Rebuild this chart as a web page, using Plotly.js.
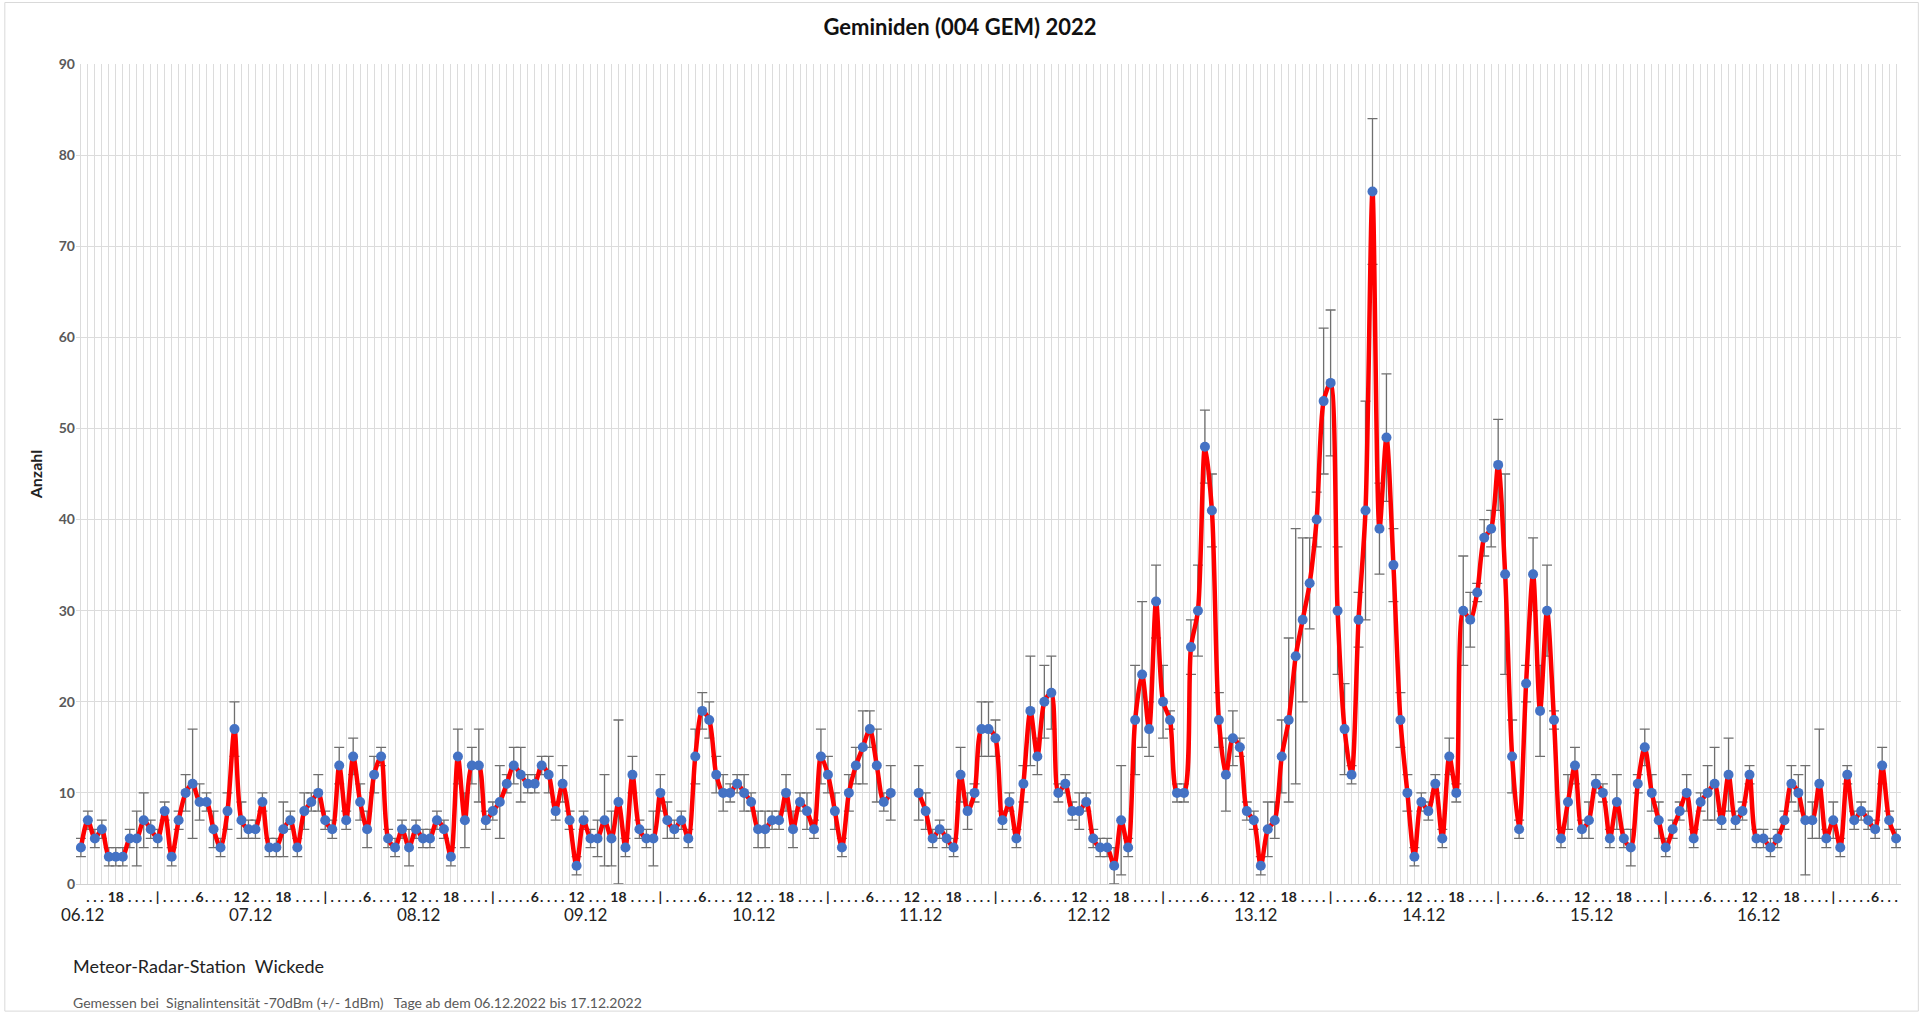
<!DOCTYPE html>
<html>
<head>
<meta charset="utf-8">
<script src="https://cdn.plot.ly/plotly-3.0.1.min.js"></script>
<style>
  html, body { margin: 0; padding: 0; background: #fff; }
  #chart { width: 1920px; height: 1015px; }
</style>
</head>
<body>
<div id="chart"></div>
<script>
// hourly counts, first value is 06.12.2022 13:00, null = no data
const counts = [
  4, 7, 5, 6, 3, 3, 3, 5, 5, 7,
  6, 5, 8, 3, 7, 10, 11, 9, 9, 6,
  4, 8, 17, 7, 6, 6, 9, 4, 4, 6,
  7, 4, 8, 9, 10, 7, 6, 13, 7, 14,
  9, 6, 12, 14, 5, 4, 6, 4, 6, 5,
  5, 7, 6, 3, 14, 7, 13, 13, 7, 8,
  9, 11, 13, 12, 11, 11, 13, 12, 8, 11,
  7, 2, 7, 5, 5, 7, 5, 9, 4, 12,
  6, 5, 5, 10, 7, 6, 7, 5, 14, 19,
  18, 12, 10, 10, 11, 10, 9, 6, 6, 7,
  7, 10, 6, 9, 8, 6, 14, 12, 8, 4,
  10, 13, 15, 17, 13, 9, 10,
  null, null, null,
  10, 8, 5, 6, 5, 4, 12, 8, 10, 17,
  17, 16, 7, 9, 5, 11, 19, 14, 20, 21,
  10, 11, 8, 8, 9, 5, 4, 4, 2, 7,
  4, 18, 23, 17, 31, 20, 18, 10, 10, 26,
  30, 48, 41, 18, 12, 16, 15, 8, 7, 2,
  6, 7, 14, 18, 25, 29, 33, 40, 53, 55,
  30, 17, 12, 29, 41, 76, 39, 49, 35, 18,
  10, 3, 9, 8, 11, 5, 14, 10, 30, 29,
  32, 38, 39, 46, 34, 14, 6, 22, 34, 19,
  30, 18, 5, 9, 13, 6, 7, 11, 10, 5,
  9, 5, 4, 11, 15, 10, 7, 4, 6, 8,
  10, 5, 9, 10, 11, 7, 12, 7, 8, 12,
  5, 5, 4, 5, 7, 11, 10, 7, 7, 11,
  5, 7, 4, 12, 7, 8, 7, 6, 13, 7,
  5
];
// estimated error (+/-) per hour
const errors = [
  1, 1, 1, 1, 1, 1, 1, 1, 3, 3,
  1, 1, 1, 1, 1, 2, 6, 2, 1, 2,
  1, 2, 3, 2, 1, 1, 1, 1, 1, 3,
  1, 1, 2, 1, 2, 1, 1, 2, 1, 2,
  2, 2, 2, 1, 1, 1, 1, 2, 1, 1,
  1, 1, 1, 1, 3, 3, 2, 4, 1, 1,
  4, 1, 2, 3, 1, 1, 1, 2, 1, 2,
  1, 1, 1, 1, 2, 5, 3, 9, 1, 2,
  1, 1, 3, 2, 2, 1, 1, 1, 3, 2,
  2, 2, 2, 1, 1, 2, 1, 2, 2, 1,
  1, 2, 2, 1, 2, 1, 3, 2, 2, 1,
  2, 2, 4, 2, 4, 1, 3,
  0, 0, 0,
  3, 2, 1, 1, 1, 1, 3, 2, 1, 3,
  3, 2, 1, 1, 1, 2, 6, 2, 4, 4,
  1, 1, 1, 2, 1, 1, 1, 1, 2, 6,
  1, 6, 8, 3, 4, 4, 1, 1, 1, 3,
  5, 4, 4, 3, 4, 3, 1, 1, 1, 1,
  3, 2, 4, 9, 14, 9, 5, 3, 8, 8,
  7, 5, 1, 3, 12, 8, 5, 7, 4, 3,
  2, 1, 1, 1, 1, 1, 2, 1, 6, 3,
  1, 2, 2, 5, 11, 4, 1, 2, 4, 5,
  5, 1, 1, 3, 2, 1, 2, 1, 1, 1,
  3, 1, 2, 1, 2, 2, 2, 1, 1, 1,
  2, 1, 1, 3, 4, 1, 4, 1, 1, 1,
  1, 1, 1, 1, 1, 2, 2, 6, 2, 6,
  1, 2, 1, 1, 1, 1, 1, 1, 2, 1,
  1
];
const startHour = 13;
const days = ["06.12", "07.12", "08.12", "09.12", "10.12", "11.12",
              "12.12", "13.12", "14.12", "15.12", "16.12"];

const x = counts.map((_, i) => i);

// hour marks along the axis: | at midnight, numbers every 6 hours
const tickText = x.map((i) => {
  const h = (startHour + i) % 24;
  if (h === 0) return "|";
  if (h === 6) return "6";
  if (h === 12) return "12";
  if (h === 18) return "18";
  if ([11, 13, 17, 19].includes(h)) return "";
  return ".";
});

// day labels under the noon mark of each day
const dayNotes = days.map((d, k) => ({
  x: k * 24 + 12 - startHour + 1.3,
  y: 0,
  xref: "x",
  yref: "paper",
  yshift: -43,
  text: d,
  showarrow: false,
  font: { size: 17, color: "#222" },
}));

const trace = {
  x: x,
  y: counts,
  type: "scatter",
  mode: "lines+markers",
  connectgaps: false,
  line: { color: "#ff0000", width: 4.5, shape: "spline", smoothing: 0.8 },
  marker: { color: "#4472c4", size: 10 },
  error_y: {
    type: "data",
    array: errors,
    visible: true,
    color: "#6f6f6f",
    thickness: 1.3,
    width: 5,
  },
  hoverinfo: "y",
};

const layout = {
  width: 1920,
  height: 1015,
  margin: { l: 76, r: 19, t: 64, b: 131 },
  paper_bgcolor: "#fff",
  plot_bgcolor: "#fff",
  font: { family: "Lato, 'Open Sans', sans-serif", color: "#404040" },
  showlegend: false,
  title: {
    text: "<b>Geminiden (004 GEM) 2022</b>",
    x: 0.5,
    y: 0.973,
    yanchor: "middle",
    font: { size: 22, color: "#111" },
  },
  xaxis: {
    range: [-0.7, counts.length - 0.3],
    tickmode: "array",
    tickvals: x,
    ticktext: tickText,
    tickangle: 0,
    ticks: "",
    showgrid: true,
    gridcolor: "#dcdcdc",
    gridwidth: 1,
    zeroline: false,
    showline: true,
    linecolor: "#d0d0d0",
    tickfont: { size: 14, color: "#222", family: "Lato, sans-serif", weight: "bold" },
  },
  yaxis: {
    range: [0, 90],
    dtick: 10,
    showgrid: true,
    gridcolor: "#dcdcdc",
    zeroline: false,
    ticks: "",
    tickfont: { size: 14, color: "#595959", weight: "bold" },
    title: { text: "<b>Anzahl</b>", font: { size: 16, color: "#222" }, standoff: 12 },
  },
  annotations: dayNotes.concat([
    {
      x: -0.003, y: -0.1, xref: "paper", yref: "paper",
      xanchor: "left", yanchor: "middle", showarrow: false,
      text: "Meteor-Radar-Station  Wickede",
      font: { size: 18, color: "#222" },
    },
    {
      x: -0.003, y: -0.144, xref: "paper", yref: "paper",
      xanchor: "left", yanchor: "middle", showarrow: false,
      text: "Gemessen bei  Signalintensität -70dBm (+/- 1dBm)   Tage ab dem 06.12.2022 bis 17.12.2022",
      font: { size: 14, color: "#595959" },
    },
  ]),
  shapes: [
    {
      type: "rect", xref: "paper", yref: "paper",
      x0: -0.039, x1: 1.0095, y0: -0.155, y1: 1.075,
      line: { color: "#d9d9d9", width: 1 },
    },
  ],
};

Plotly.newPlot("chart", [trace], layout, { staticPlot: true });
</script>
</body>
</html>
